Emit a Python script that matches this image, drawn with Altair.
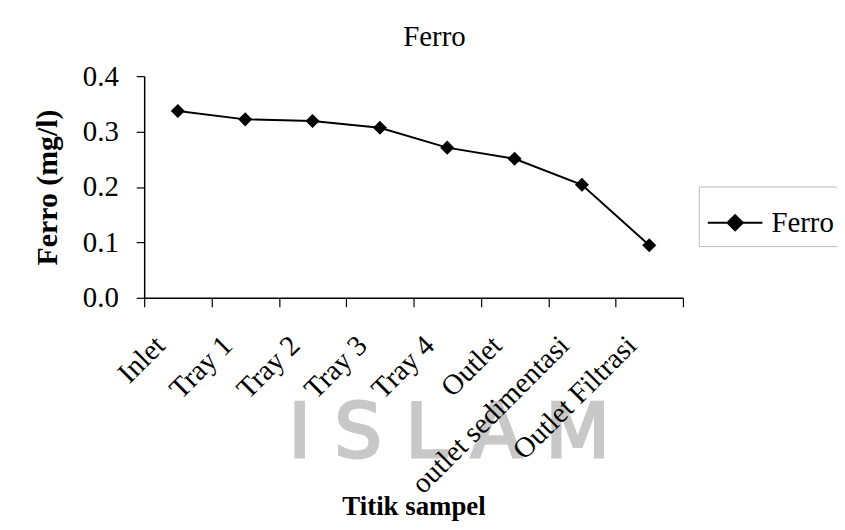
import altair as alt
import pandas as pd

categories = ["Inlet", "Tray 1", "Tray 2", "Tray 3", "Tray 4", "Outlet",
              "outlet sedimentasi", "Outlet Filtrasi"]
ferro = [0.337, 0.322, 0.319, 0.307, 0.271, 0.251, 0.204, 0.095]
series_name = "Ferro"
y_ticks = [0.0, 0.1, 0.2, 0.3, 0.4]

df = pd.DataFrame({"Titik": categories, "Ferro": ferro,
                   "Seri": [series_name] * len(categories)})

FONT = "Liberation Serif"

x_enc = alt.X("Titik:N", sort=categories, bandPosition=0.5,
              scale=alt.Scale(type="band", paddingInner=0, paddingOuter=0),
              axis=alt.Axis(title="Titik sampel", labelAngle=-45, tickBand="extent",
                            labelFont=FONT, labelFontSize=29, labelColor="black",
                            labelPadding=24, labelOffset=-28, labelLimit=500,
                            tickSize=9, tickColor="black",
                            domainColor="black", domainWidth=1.5, tickWidth=1.2,
                            titleFont=FONT, titleFontSize=27, titleFontWeight="bold",
                            titleColor="black", titleY=197, titleBaseline="top",
                            zindex=1))
y_enc = alt.Y("Ferro:Q",
              scale=alt.Scale(domain=[0, 0.4], nice=False),
              axis=alt.Axis(title="Ferro (mg/l)", values=y_ticks, format=".1f",
                            grid=False, labelFont=FONT, labelFontSize=29,
                            labelColor="black", labelPadding=18, tickSize=8,
                            tickColor="black", domainColor="black", domainWidth=1.5,
                            tickWidth=1.2, titleFont=FONT, titleFontSize=30,
                            titleFontWeight="bold", titleColor="black",
                            titlePadding=20, zindex=1))
color_enc = alt.Color("Seri:N", scale=alt.Scale(range=["black"]),
                      legend=alt.Legend(title=None, orient="none", legendX=558,
                                        legendY=111, padding=8,
                                        symbolType="M-1,0L1,0M-0.28,0L0,-0.28L0.28,0L0,0.28Z",
                                        symbolSize=3025, symbolStrokeWidth=2,
                                        symbolFillColor="black", symbolStrokeColor="black",
                                        labelFont=FONT, labelFontSize=29, labelColor="black",
                                        labelOffset=8, strokeColor="#bbbbbb"))

line = alt.Chart(df).mark_line(strokeWidth=2).encode(x=x_enc, y=y_enc, color=color_enc)
pts = alt.Chart(df).mark_point(shape="diamond", filled=True, size=200, opacity=1).encode(
    x=x_enc, y=y_enc, color=color_enc)

watermark = alt.Chart(pd.DataFrame({"t": ["I S L A M"]})).mark_text(
    font="DejaVu Sans", fontSize=75, fontWeight="normal", color="#c8c8c8",
    stroke="#c8c8c8", strokeWidth=3,
    align="center", baseline="middle").encode(
    text="t:N", x=alt.value(307), y=alt.value(360))

chart = alt.layer(watermark, line, pts).properties(
    width=542, height=223, background="white",
    title=alt.TitleParams("Ferro", font=FONT, fontSize=29, fontWeight="normal",
                          color="black", anchor="middle", dx=21, offset=10),
    autosize=alt.AutoSizeParams(type="none"),
    padding={"left": 137, "top": 67, "right": 155, "bottom": 224},
).configure_view(strokeWidth=0, stroke="transparent")

chart.save("out.html", embed_options={"renderer": "svg", "actions": False})
